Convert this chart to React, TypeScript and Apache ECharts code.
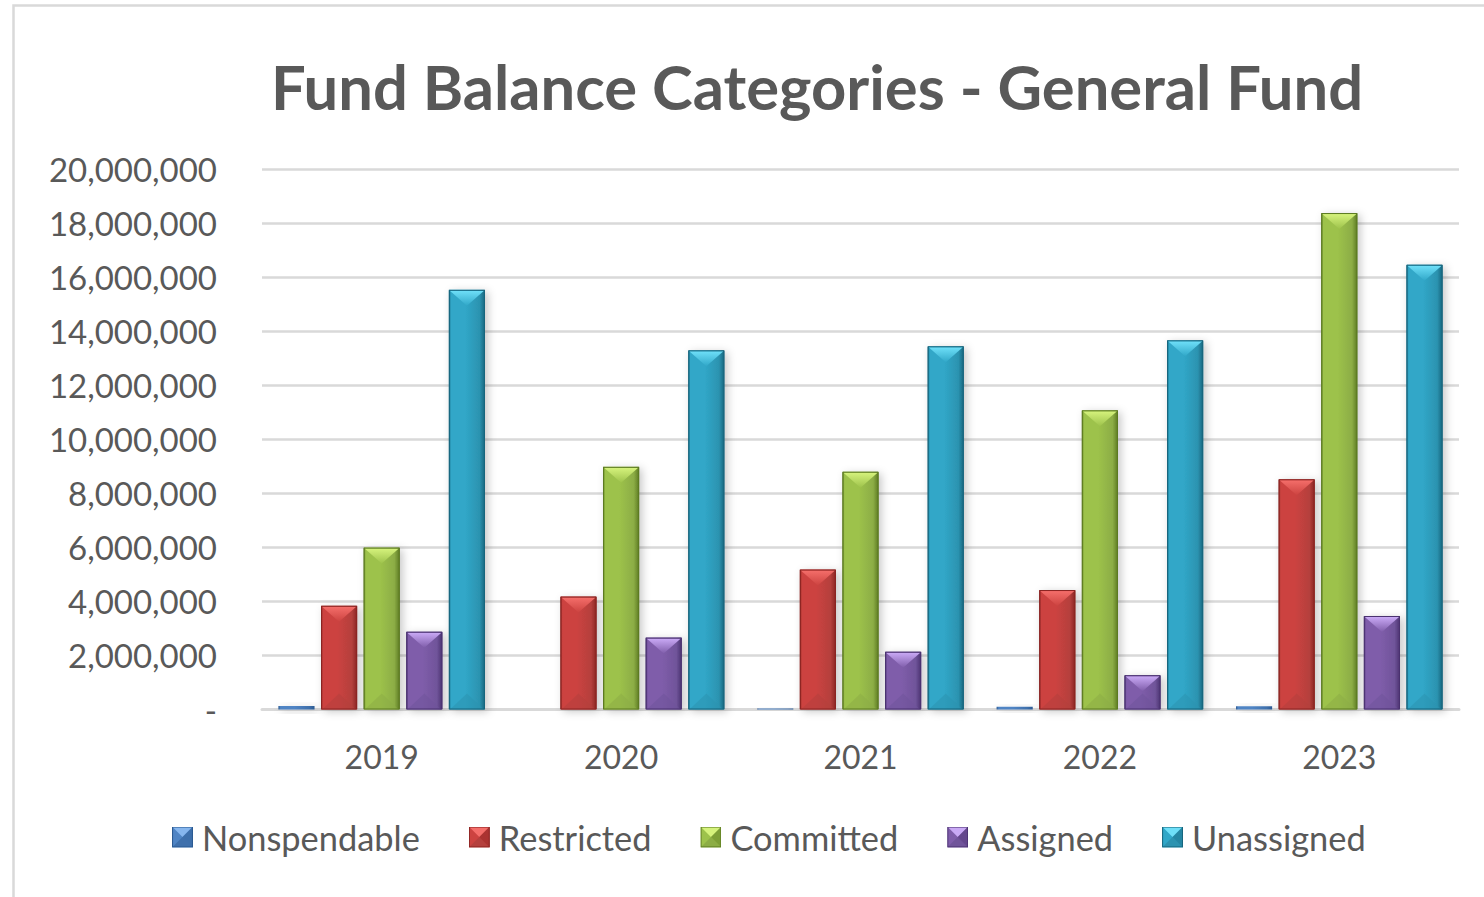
import React, { useEffect, useRef } from "react";
import * as echarts from "echarts";

const years = ["2019", "2020", "2021", "2022", "2023"];
const seriesNames = ["Nonspendable", "Restricted", "Committed", "Assigned", "Unassigned"];
const nonspendable = [130000, 0, 40000, 100000, 120000];
const restricted = [3840000, 4180000, 5180000, 4420000, 8520000];
const committed = [5990000, 8980000, 8800000, 11070000, 18370000];
const assigned = [2880000, 2660000, 2140000, 1270000, 3460000];
const unassigned = [15530000, 13290000, 13440000, 13660000, 16460000];
const yTicks = [0, 2000000, 4000000, 6000000, 8000000, 10000000, 12000000, 14000000, 16000000, 18000000, 20000000];

const allValues = [nonspendable, restricted, committed, assigned, unassigned];

const palette = [
  { face: "#4F84C4", light: "#86B6EE", dark: "#2B5A92", bottom: "#3F70AC" },
  { face: "#CC4340", light: "#F46E6A", dark: "#8A2422", bottom: "#B5403D" },
  { face: "#9DC24B", light: "#D5F27C", dark: "#5C7A22", bottom: "#8CAD45" },
  { face: "#7F5DAA", light: "#C9A9F5", dark: "#4A3270", bottom: "#70549A" },
  { face: "#30A7C8", light: "#6EDFF8", dark: "#17657D", bottom: "#2C93B0" },
];

function legendIcon(p: { face: string; light: string; dark: string; bottom: string }) {
  const svg =
    `<svg xmlns="http://www.w3.org/2000/svg" width="20" height="20" viewBox="0 0 20 20">` +
    `<rect x="0" y="0" width="20" height="20" fill="${p.face}"/>` +
    `<polygon points="0,0 20,0 10,10" fill="${p.light}"/>` +
    `<polygon points="0,20 20,20 10,10" fill="${p.bottom}"/>` +
    `<polygon points="20,0 20,20 10,10" fill="${p.dark}" fill-opacity="0.5"/>` +
    `<rect x="0.5" y="0.5" width="19" height="19" fill="none" stroke="${p.dark}" stroke-width="1"/>` +
    `</svg>`;
  return "image://data:image/svg+xml;charset=utf-8," + encodeURIComponent(svg);
}

function makeRenderItem(seriesIdx: number) {
  const p = palette[seriesIdx];
  return (params: any, api: any) => {
    const cat = api.value(0);
    const val = api.value(1);
    if (!val) return null;
    const base = api.coord([cat, 0]);
    const top = api.coord([cat, val]);
    const catW = api.size([1, 0])[0];
    const bw = catW * 0.151;
    const gap = catW * 0.027;
    const groupW = 5 * bw + 4 * gap;
    const x0 = base[0] - groupW / 2 + seriesIdx * (bw + gap);
    const y0 = top[1];
    const h = base[1] - top[1];
    const d = Math.min(16, h / 2);
    const children: any[] = [
      {
        type: "rect",
        shape: { x: x0, y: y0, width: bw, height: h },
        style: {
          fill: new echarts.graphic.LinearGradient(0, 0, 1, 0, [
            { offset: 0, color: p.dark },
            { offset: 0.06, color: p.face },
            { offset: 0.45, color: p.face },
            { offset: 0.85, color: p.bottom },
            { offset: 1, color: p.dark },
          ]),
          shadowBlur: 8,
          shadowColor: "rgba(0,0,0,0.22)",
          shadowOffsetX: 3,
          shadowOffsetY: 2,
        },
      },
    ];
    if (h > 6) {
      children.push({
        type: "polygon",
        shape: { points: [[x0 + 1, y0 + 1], [x0 + bw - 1, y0 + 1], [x0 + bw / 2, y0 + d]] },
        style: {
          fill: new echarts.graphic.LinearGradient(0, 0, 0, 1, [
            { offset: 0, color: p.light },
            { offset: 1, color: p.face },
          ]),
        },
      });
      children.push({
        type: "polygon",
        shape: { points: [[x0 + 1, y0 + h], [x0 + bw - 1, y0 + h], [x0 + bw / 2, y0 + h - d]] },
        style: { fill: p.bottom, opacity: 0.55 },
      });
    }
    children.push({
      type: "rect",
      shape: { x: x0 + 0.5, y: y0 + 0.5, width: bw - 1, height: Math.max(h - 1, 0.5) },
      style: { fill: "none", stroke: p.dark, lineWidth: h > 6 ? 1 : 0 },
    });
    return { type: "group", children };
  };
}

export default function App() {
  const ref = useRef<HTMLDivElement>(null);
  useEffect(() => {
    if (!ref.current) return;
    const chart = echarts.init(ref.current, null, { renderer: "svg" });
    const font = "Lato, 'Noto Sans', sans-serif";
    const option: any = {
      animation: false,
      backgroundColor: "#ffffff",
      textStyle: { fontFamily: font },
      graphic: [
        {
          type: "rect",
          shape: { x: 13.5, y: 5.5, width: 1600, height: 1000 },
          style: { fill: "none", stroke: "#d9d9d9", lineWidth: 2.5 },
          silent: true,
          z: -1,
        },
        {
          type: "text",
          x: 817,
          y: 86,
          style: {
            text: "Fund Balance Categories - General Fund",
            fontFamily: font,
            fontWeight: "bold",
            fontSize: 61.5,
            fill: "#595959",
            textAlign: "center",
            textVerticalAlign: "middle",
          },
        },
      ],
      grid: { left: 262, right: 25, top: 169, bottom: 187.5 },
      legend: {
        left: 167,
        top: 815,
        itemWidth: 21,
        itemHeight: 21,
        itemGap: 49,
        textStyle: { fontSize: 34.4, color: "#595959", fontFamily: font, padding: [0, 0, 0, 4] },
        data: seriesNames.map((n, i) => ({ name: n, icon: legendIcon(palette[i]) })),
      },
      xAxis: {
        type: "category",
        data: years,
        axisTick: { show: false },
        axisLine: { show: true, lineStyle: { color: "#d9d9d9", width: 3 } },
        axisLabel: { fontSize: 32, color: "#595959", margin: 31, fontFamily: font },
      },
      yAxis: {
        type: "value",
        min: 0,
        max: yTicks[yTicks.length - 1],
        interval: yTicks[1] - yTicks[0],
        axisLine: { show: false },
        axisTick: { show: false },
        splitLine: { lineStyle: { color: "#d9d9d9", width: 2.5 } },
        axisLabel: {
          fontSize: 33,
          color: "#595959",
          margin: 45,
          fontFamily: font,
          formatter: (v: number) => (v === 0 ? "-" : v.toLocaleString("en-US")),
        },
      },
      series: allValues.map((vals, si) => ({
        type: "custom",
        name: seriesNames[si],
        itemStyle: { color: palette[si].face },
        encode: { x: 0, y: 1 },
        data: vals.map((v, i) => [i, v]),
        renderItem: makeRenderItem(si),
      })),
    };
    chart.setOption(option);
    return () => chart.dispose();
  }, []);
  return <div ref={ref} style={{ position: "fixed", left: 0, top: 0, width: 1484, height: 897 }} />;
}
